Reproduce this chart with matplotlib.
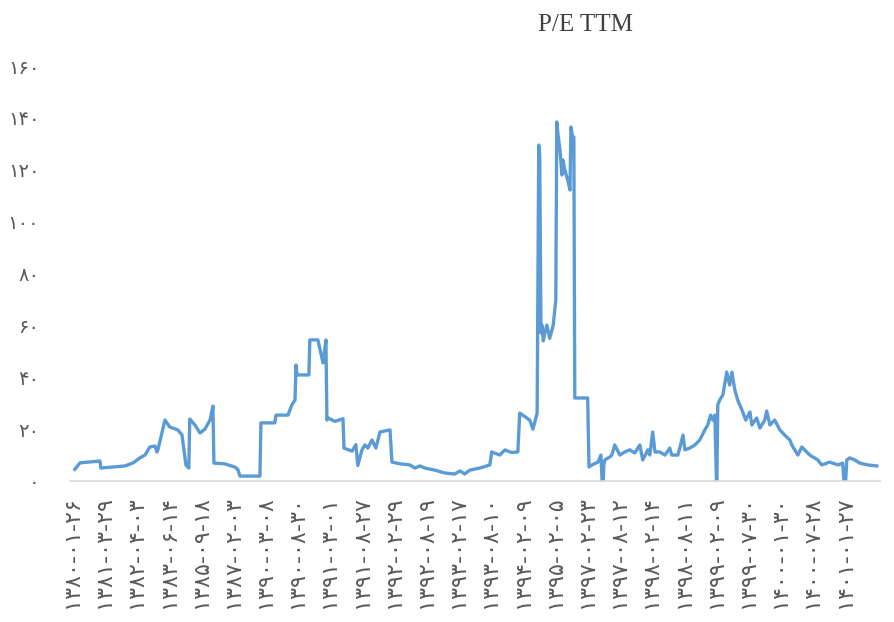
import matplotlib
matplotlib.use("Agg")
import matplotlib.pyplot as plt

# trading-day index (100 per label interval) and P/E TTM
day_index = [
    9, 25, 87, 90, 165, 190, 211, 227, 242, 258, 264, 267, 289, 304, 329, 342,
    354, 363, 366, 382, 398, 413, 429, 438, 441, 475, 506, 515, 522, 584, 587,
    630, 634, 671, 683, 693, 696, 699, 736, 739, 764, 780, 789, 792, 795, 817,
    842, 845, 870, 882, 885, 888, 901, 910, 919, 932, 944, 957, 988, 994,
    1020, 1050, 1065, 1081, 1096, 1127, 1158, 1189, 1205, 1220, 1236, 1267,
    1298, 1304, 1329, 1345, 1365, 1385, 1391, 1422, 1432, 1445, 1450, 1453,
    1457, 1460, 1464, 1469, 1475, 1484, 1495, 1503, 1506, 1510, 1516, 1522,
    1525, 1531, 1540, 1547, 1550, 1555, 1559, 1562, 1602, 1606, 1615, 1634,
    1643, 1649, 1652, 1655, 1671, 1677, 1686, 1702, 1717, 1733, 1748, 1764,
    1773, 1789, 1795, 1804, 1811, 1826, 1842, 1857, 1863, 1882, 1888, 1898,
    1904, 1919, 1935, 1950, 1966, 1975, 1984, 1991, 1997, 2003, 2006, 2012,
    2022, 2034, 2043, 2050, 2059, 2068, 2081, 2093, 2106, 2112, 2127, 2137,
    2152, 2158, 2168, 2183, 2199, 2214, 2230, 2236, 2245, 2255, 2267, 2292,
    2301, 2317, 2329, 2354, 2379, 2394, 2401, 2407, 2416, 2432, 2447, 2472,
    2500,
]
pe_ttm = [
    4.5, 7.0, 7.7, 5.0, 5.8, 7.0, 8.9, 10.0, 13.1, 13.5, 11.2, 12.0, 23.5,
    20.8, 19.7, 17.7, 6.2, 5.0, 23.9, 21.6, 18.5, 20.0, 23.5, 28.9, 6.9, 6.6,
    5.4, 4.5, 1.9, 1.9, 22.4, 22.4, 25.4, 25.4, 29.3, 31.2, 44.7, 40.9, 40.9,
    54.4, 54.4, 45.5, 54.4, 23.5, 24.3, 23.0, 24.0, 12.7, 11.5, 14.0, 10.0,
    6.0, 12.0, 13.9, 12.7, 15.8, 12.7, 18.9, 19.7, 7.3, 6.6, 6.2, 5.0, 5.8,
    5.0, 4.2, 3.1, 2.7, 3.9, 2.7, 4.2, 5.0, 6.2, 11.2, 10.0, 12.0, 11.0, 11.2,
    26.2, 23.5, 20.0, 26.2, 129.5, 125.7, 57.1, 60.1, 54.0, 57.1, 60.1, 55.0,
    60.1, 69.8, 138.4, 133.4, 127.6, 118.0, 123.8, 119.9, 116.0, 112.2, 136.5,
    132.6, 132.6, 32.0, 32.0, 5.4, 6.2, 7.3, 10.0, -5.0, 6.0, 8.1, 9.3, 10.0,
    13.9, 10.0, 11.2, 12.0, 10.8, 13.9, 8.1, 12.0, 10.0, 18.9, 11.2, 11.2,
    10.0, 12.7, 10.0, 10.0, 12.7, 17.7, 12.0, 12.7, 13.9, 15.8, 19.7, 21.6,
    25.4, 23.5, 25.4, -5.0, 29.3, 31.2, 33.2, 42.0, 37.0, 42.0, 35.1, 31.2,
    27.4, 23.5, 26.6, 21.6, 24.3, 20.4, 23.5, 27.0, 21.6, 23.5, 19.7, 17.7,
    15.8, 13.9, 12.0, 10.0, 13.1, 10.0, 9.3, 8.1, 6.2, 7.3, 6.2, 6.9, -5.0,
    8.1, 8.9, 8.1, 6.9, 6.2, 5.8,
]

tick_pos = list(range(0, 2500, 100))
tick_labels = [
    "۱۳۸۰-۰۱-۲۶", "۱۳۸۱-۰۳-۲۹", "۱۳۸۲-۰۴-۰۳", "۱۳۸۳-۰۶-۱۴", "۱۳۸۵-۰۹-۱۸",
    "۱۳۸۷-۰۲-۰۳", "۱۳۹۰-۰۳-۰۸", "۱۳۹۰-۰۸-۳۰", "۱۳۹۱-۰۳-۰۱", "۱۳۹۱-۰۸-۲۷",
    "۱۳۹۲-۰۲-۲۹", "۱۳۹۲-۰۸-۱۹", "۱۳۹۳-۰۲-۱۷", "۱۳۹۳-۰۸-۱۰", "۱۳۹۴-۰۲-۰۹",
    "۱۳۹۵-۰۲-۰۵", "۱۳۹۷-۰۲-۲۳", "۱۳۹۷-۰۸-۱۲", "۱۳۹۸-۰۲-۱۴", "۱۳۹۸-۰۸-۱۱",
    "۱۳۹۹-۰۲-۰۹", "۱۳۹۹-۰۷-۳۰", "۱۴۰۰-۰۱-۳۰", "۱۴۰۰-۰۷-۲۸", "۱۴۰۱-۰۱-۲۷",
]
y_ticks = [0, 20, 40, 60, 80, 100, 120, 140, 160]
y_labels = ["۰", "۲۰", "۴۰", "۶۰", "۸۰", "۱۰۰", "۱۲۰", "۱۴۰", "۱۶۰"]

plt.rcParams["font.family"] = ["DejaVu Sans", "Noto Sans"]

fig = plt.figure(figsize=(8.95, 6.22), dpi=100)
ax = fig.add_axes([70 / 895, 1 - 481 / 622, 810 / 895, 415 / 622])

ax.plot(day_index, pe_ttm, color="#5B9BD5", linewidth=2.4, solid_joinstyle="round")

ax.set_xlim(-6, 2510)
ax.set_ylim(0, 160)
ax.set_yticks(y_ticks)
ax.set_yticklabels(y_labels)
ax.set_xticks(tick_pos)
ax.set_xticklabels(tick_labels, rotation=90)

for side in ("left", "right", "top"):
    ax.spines[side].set_visible(False)
ax.spines["bottom"].set_color("#D9D9D9")
ax.spines["bottom"].set_linewidth(1.2)
ax.tick_params(axis="y", length=0, pad=22, labelsize=14, labelcolor="#595959")
ax.tick_params(axis="x", length=0, pad=11, labelsize=16, labelcolor="#595959")

fig.text(585 / 895, 1 - 25 / 622, "P/E TTM", ha="center", va="center",
         family="Liberation Serif", fontsize=18, color="#404040")

fig.savefig("out.png", dpi=100)
